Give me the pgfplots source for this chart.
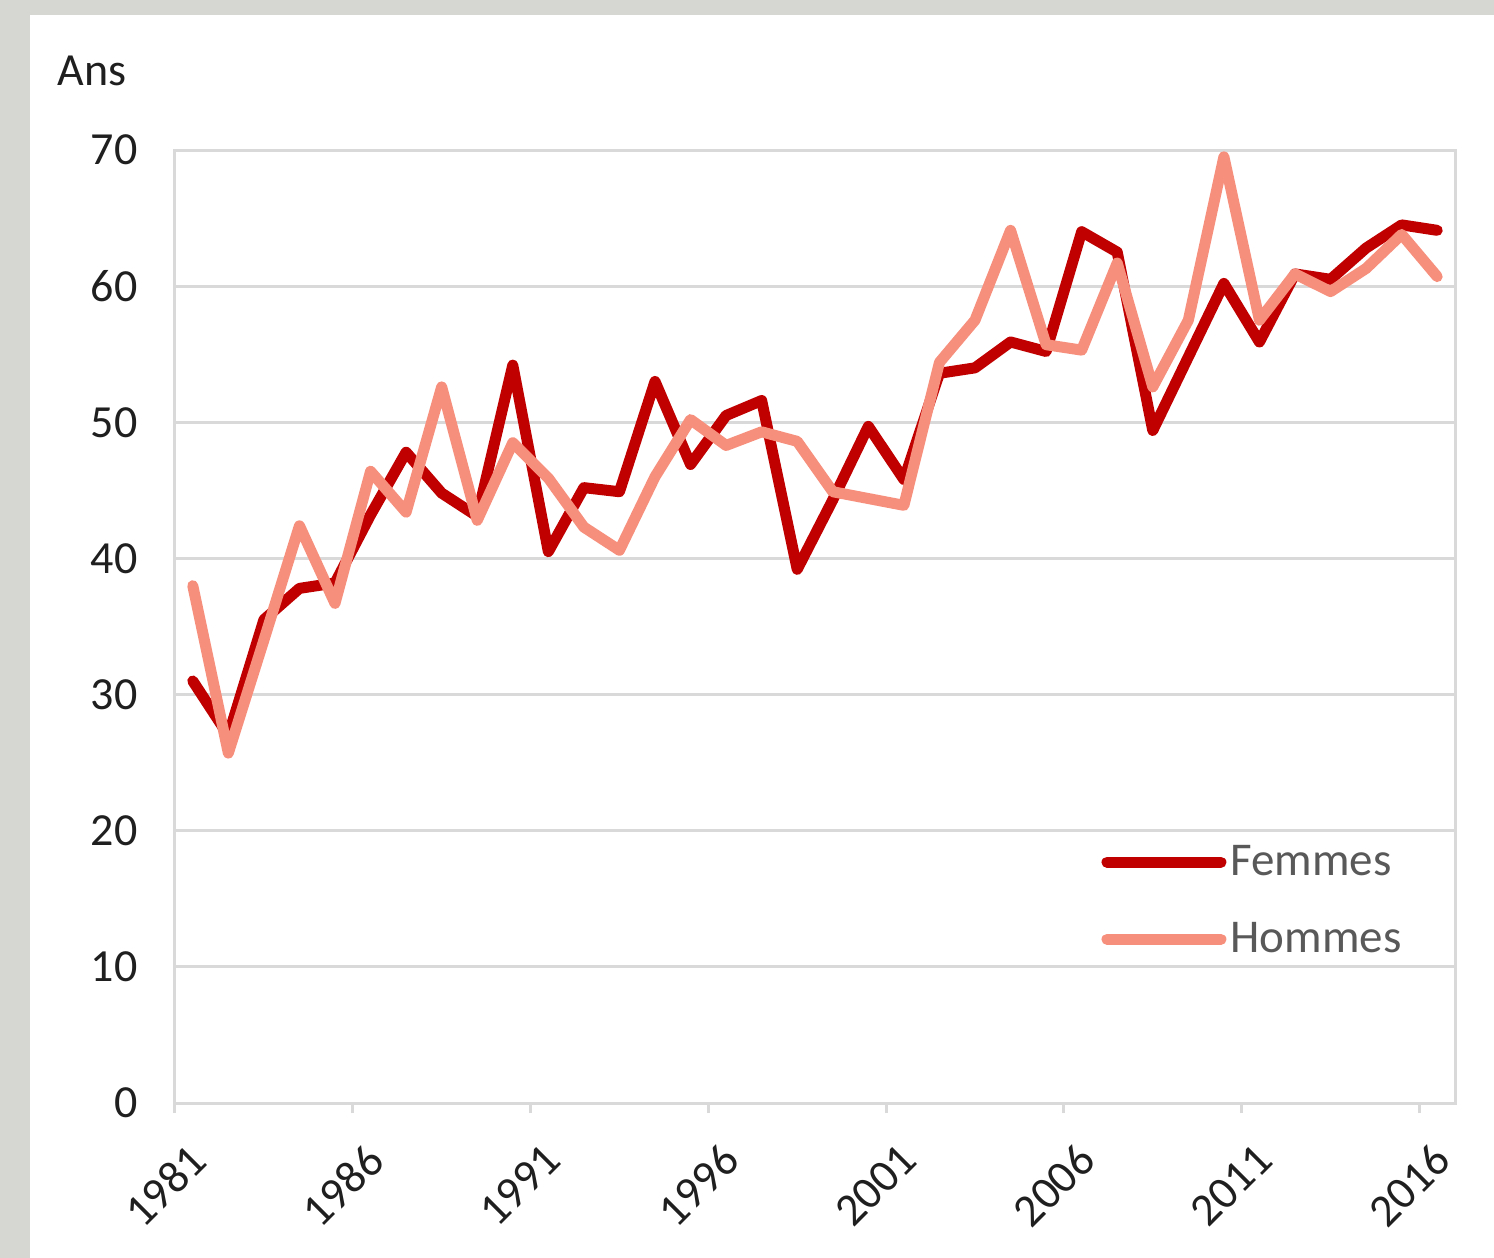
\documentclass[border=0pt]{standalone}
\usepackage{fontspec}
\setmainfont{Carlito}
\usepackage{pgfplots}
\pgfplotsset{compat=1.18}
\usepackage{pgfplotstable}
\definecolor{femmes}{HTML}{C00000}
\definecolor{hommes}{HTML}{F78F7D}
\definecolor{gridc}{HTML}{D9D9D9}
\definecolor{bgc}{HTML}{D6D6D2}

\pgfplotstableread{
year f h
1981 31.0 38.0
1982 27.0 25.7
1983 35.5 34.0
1984 37.8 42.4
1985 38.2 36.7
1986 43.2 46.4
1987 47.8 43.4
1988 44.8 52.6
1989 43.1 42.8
1990 54.2 48.5
1991 40.5 45.9
1992 45.2 42.3
1993 44.9 40.6
1994 53.0 46.0
1995 46.9 50.2
1996 50.5 48.3
1997 51.6 49.3
1998 39.2 48.6
1999 44.3 44.9
2000 49.7 44.4
2001 45.8 43.9
2002 53.6 54.4
2003 54.0 57.5
2004 55.9 64.1
2005 55.2 55.7
2006 64.0 55.3
2007 62.5 61.7
2008 49.4 52.6
2009 54.8 57.5
2010 60.2 69.5
2011 55.9 57.5
2012 60.9 60.9
2013 60.5 59.6
2014 62.8 61.3
2015 64.5 63.8
2016 64.1 60.7
}\data

\begin{document}
\begin{tikzpicture}
\fill[bgc] (0,0) rectangle (747pt,-629pt);
\fill[white] (15pt,-7.5pt) rectangle (747pt,-629pt);
\useasboundingbox (0,0) rectangle (747pt,-629pt);
\node[anchor=base west, inner sep=0pt, font=\fontsize{23}{27}\selectfont, text=black!88] at (28.5pt,-42.5pt) {Ans};
\begin{axis}[
  at={(87.5pt,-551.5pt)}, anchor=south west,
  scale only axis, width=640pt, height=476.5pt,
  xmin=1980.5, xmax=2016.5, ymin=0, ymax=70,
  ytick={0,10,...,70},
  ymajorgrids,
  grid style={gridc, line width=1.5pt},
  axis line style={gridc, line width=1.5pt},
  y tick style={draw=none},
  xtick={1981,1986,...,2016},
  xticklabels={1981,1986,1991,1996,2001,2006,2011,2016},
  major x tick style={draw=none},
  minor xtick={1980.5,1985.5,...,2015.5},
  minor x tick style={gridc, line width=1.5pt},
  minor tick length=5pt,
  tick align=outside,
  xtick pos=bottom,
  ticklabel style={font=\fontsize{23}{27}\selectfont, text=black!88},
  /pgf/number format/assume math mode=true,
  yticklabel style={xshift=-11pt},
  xticklabel style={xshift=-3pt, yshift=-10pt, rotate=45, anchor=north east},
  legend style={draw=none, fill=none, at={(0.7188,0.279)}, anchor=north west,
    font=\fontsize{23.5}{27}\selectfont, text=black!65, row sep=18pt},
  legend cell align=left,
  legend image code/.code={\draw[#1, line cap=round] (0pt,0pt) -- (57pt,0pt);},
  clip=false,
]
\addplot[femmes, line width=5.5pt, line join=round, line cap=round] table[x=year, y=f] {\data};
\addlegendentry{Femmes}
\addplot[hommes, line width=5.5pt, line join=round, line cap=round] table[x=year, y=h] {\data};
\addlegendentry{Hommes}
\end{axis}
\end{tikzpicture}
\end{document}
